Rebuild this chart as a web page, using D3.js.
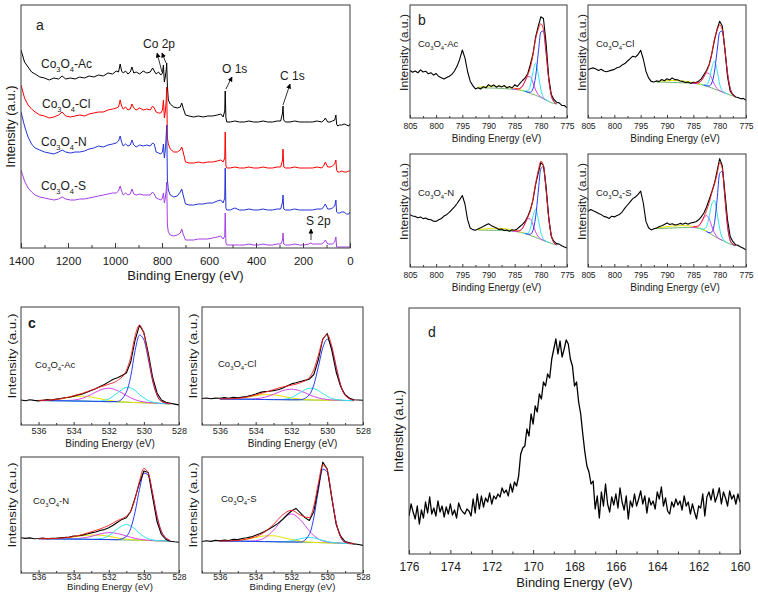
<!DOCTYPE html>
<html><head><meta charset="utf-8">
<script src="https://cdn.jsdelivr.net/npm/d3@7/dist/d3.min.js"></script>
<style>body{margin:0;background:#fff}</style>
</head><body>
<script>
// ================= DATA =================
const sampleNames = ["Ac","Cl","N","S"];

// ---- (a) survey spectra ----
const surveyE = [1400,1385,1370,1355,1340,1320,1300,1280,1260,1240,1225,1210,1190,1170,1150,1130,1110,1090,1070,1050,1030,1010,995,985,978,972,965,955,945,935,928,920,910,895,880,865,850,840,833,825,815,805,798,794,790,786,782,780,777,773,765,750,735,722,716,710,700,685,665,645,625,605,585,565,550,540,533,531,528,524,510,490,470,450,430,410,390,370,350,330,310,295,287,285,282,275,255,235,215,195,175,168,160,140,120,110,105,95,85,75,65,60,57,52,45,35,25,15,5,0];
const surveyAc = [198,186,181,176,174,171,170,168,170,169,172,169,170,169,171,170,172,171,173,172,175,174,177,176,184,177,175,177,174,176,181,175,176,174,177,175,176,180,177,174,176,173,175,183,166,171,178,185,162,148,144,141,140,141,145,140,133,132,131,132,131,132,132,133,134,131,137,157,130,126,126,127,126,126,127,126,126,127,126,126,127,127,135,142,128,126,126,127,126,126,126,126,126,127,126,128,130,126,126,127,128,133,124,122,123,123,124,123,122,124];
const surveyCl = [163,150,143,139,136,133,132,130,131,133,136,132,131,132,133,132,134,135,136,136,138,139,140,141,148,142,139,141,138,139,144,140,138,140,138,139,138,142,140,136,135,135,138,148,130,136,148,161,110,104,99,96,96,98,101,96,86,85,85,86,85,86,86,87,88,86,90,116,82,80,80,81,80,80,81,80,80,81,80,80,81,81,88,99,81,80,80,81,80,80,80,80,80,81,80,83,86,81,81,82,84,88,78,76,76,77,76,76,77,77];
const surveyN = [136,122,111,104,100,98,96,95,94,96,98,96,95,96,96,97,99,100,102,101,103,104,105,107,112,106,102,104,102,103,108,103,101,103,102,103,102,105,104,96,95,94,96,104,90,98,113,123,68,58,53,51,52,56,59,53,44,43,43,44,44,45,45,47,48,45,50,80,40,38,38,40,38,38,39,38,38,39,38,38,39,39,46,53,39,38,38,39,38,38,38,38,38,39,39,42,44,39,39,40,42,48,36,35,35,36,36,34,34,36];
const surveyS = [78,67,60,56,53,51,50,49,48,49,51,49,48,48,49,49,50,51,52,53,54,55,55,57,62,57,53,55,53,54,59,54,53,54,53,53,53,56,54,50,49,48,50,55,45,50,58,66,23,16,13,12,13,15,19,14,8,8,8,9,9,9,10,11,12,9,12,35,5,3,3,3,3,3,4,3,3,4,3,3,4,4,8,15,4,3,3,4,3,3,4,5,4,4,4,6,8,4,4,4,6,11,1,1,1,1,1,1,1,1];
const surveyTicks = [1400,1200,1000,800,600,400,200,0];
const surveyMinor = [1300,1100,900,700,500,300,100];
const peakLabels = ["Co 2p","O 1s","C 1s","S 2p"];

// ---- (b) Co 2p spectra: 805 -> 775 eV, 0.5 eV steps ----
const co2pAc = [47.5,45.8,47.0,45.2,48.1,46.0,46.8,44.2,45.3,42.9,44.4,41.5,40.2,39.1,40.5,41.8,43.6,47.0,51.9,58.8,68.0,60.2,46.5,36.8,32.4,29.1,30.2,29.0,31.3,30.2,33.4,31.6,33.0,30.8,32.3,31.0,32.5,30.1,31.4,30.0,33.2,31.5,34.6,37.5,40.2,44.3,53.5,64.0,80.8,91.6,101.2,99.5,75.3,41.0,23.4,18.6,15.8,15.1,12.6,12.5,10.1];
const co2pCl = [48.2,49.5,50.1,48.9,47.6,48.8,47.0,46.2,47.1,47.9,48.6,50.2,51.0,53.1,54.4,57.0,59.3,61.8,60.9,63.5,67.6,59.0,46.8,40.1,36.6,36.0,37.1,36.4,38.5,37.3,39.2,38.1,40.0,38.4,38.2,37.0,36.6,35.5,35.9,34.8,35.6,35.4,36.8,39.2,43.3,47.5,53.4,64.2,77.6,88.5,96.8,92.0,68.4,41.0,26.8,23.4,21.0,20.5,19.2,19.6,17.8];
const co2pN = [52.3,51.0,50.6,49.2,50.1,48.4,49.0,47.6,47.3,45.8,45.6,47.2,48.5,50.9,52.3,54.6,57.4,60.2,63.5,67.4,71.5,63.0,47.3,39.0,37.4,36.8,38.0,39.2,40.6,42.1,43.3,41.6,40.2,39.0,37.5,37.9,36.6,36.9,35.8,37.2,36.8,38.1,40.5,42.6,45.6,50.4,57.2,66.8,82.3,93.9,104.5,101.5,80.6,50.0,30.6,25.6,23.4,22.9,21.2,20.0,18.9];
const co2pS = [55.8,57.5,56.2,55.0,53.5,52.4,50.6,49.9,48.4,50.8,50.1,51.5,52.6,55.2,58.9,62.0,65.1,68.4,70.0,72.6,75.8,64.0,45.6,39.2,37.1,38.2,38.9,40.3,41.2,42.6,44.1,42.5,43.3,42.0,42.4,43.6,42.8,43.9,42.7,44.0,44.6,45.3,47.2,50.1,54.0,59.8,67.3,75.0,83.5,95.6,108.4,101.2,73.9,46.8,30.5,25.6,22.3,21.6,20.1,18.8,17.2];
const co2pTicks = [805,800,795,790,785,780,775];
const co2pMinor = [802.5,797.5,792.5,787.5,782.5,777.5];
// fitted components (peak heights above background) on this grid
const co2pFitE = [792,791,790,789,788,787,786,785.5,785,784.5,784,783.5,783,782.5,782,781.5,781,780.5,780,779.5,779,778.5,778,777.5,777];
const co2pBgAc = [30.3,30.2,30.0,29.9,29.7,29.4,29.0,28.8,28.7,28.3,28.0,27.3,26.7,25.7,24.7,23.7,22.7,21.7,20.7,19.3,18.0,16.7,15.3,14.7,14.0];
const co2pSatAc = [0.5,1.0,1.5,2.0,2.0,2.0,1.5,1.2,1.0,0.6,0.3,0.1,0,0,0,0,0,0,0,0,0,0,0,0,0];
const co2pP3Ac = [0,0,0,0,0,0,0,0,0.1,0.3,1.4,4.5,10.3,15.8,16.5,11.6,5.5,1.8,0.4,0.1,0,0,0,0,0];
const co2pP2Ac = [0,0,0,0,0,0,0,0,0,0,0,0,0.1,1.4,8.0,22.6,32.0,22.6,8.0,1.4,0.1,0,0,0,0];
const co2pP1Ac = [0,0,0,0,0,0,0,0,0,0,0,0,0,0.1,1.1,5.6,18.7,42.5,65.2,67.8,47.7,22.8,7.4,1.6,0.2];
const co2pBgCl = [36.0,35.9,35.8,35.6,35.4,35.2,35.0,34.8,34.6,34.3,34.0,33.4,32.8,32.0,31.0,30.0,29.0,28.0,27.0,26.0,25.0,24.0,23.0,22.2,21.5];
const co2pSatCl = [0.5,1.0,1.5,2.0,2.0,1.8,1.4,1.1,0.9,0.6,0.3,0.1,0,0,0,0,0,0,0,0,0,0,0,0,0];
const co2pP3Cl = [0,0,0,0,0,0,0,0,0.1,0.2,1.1,3.7,8.4,13.0,13.5,9.5,4.5,1.5,0.3,0.1,0,0,0,0,0];
const co2pP2Cl = [0,0,0,0,0,0,0,0,0,0,0,0,0.1,1.2,7.0,19.8,28.0,19.8,7.0,1.2,0.1,0,0,0,0];
const co2pP1Cl = [0,0,0,0,0,0,0,0,0,0,0,0,0,0.1,1.0,5.0,16.8,38.3,58.7,61.0,42.9,20.5,6.7,1.4,0.2];
const co2pBgN = [37.0,36.9,36.8,36.7,36.6,36.4,36.0,35.8,35.5,35.2,34.8,34.2,33.5,32.6,31.6,30.6,29.6,28.6,27.6,26.6,25.6,24.6,23.6,22.8,22.0];
const co2pSatN = [0.5,1.0,1.5,2.0,2.0,2.0,1.5,1.2,1.0,0.6,0.3,0.1,0,0,0,0,0,0,0,0,0,0,0,0,0];
const co2pP3N = [0,0,0,0,0,0,0,0,0.1,0.3,1.4,4.5,10.3,15.8,16.5,11.6,5.5,1.8,0.4,0.1,0,0,0,0,0];
const co2pP2N = [0,0,0,0,0,0,0,0,0,0,0,0,0.1,1.2,7.0,19.8,28.0,19.8,7.0,1.2,0.1,0,0,0,0];
const co2pP1N = [0,0,0,0,0,0,0,0,0,0,0,0,0,0.2,1.2,6.1,20.3,46.1,70.8,73.6,51.8,24.7,8.0,1.7,0.3];
const co2pBgS = [38.5,38.6,38.8,39.0,39.2,39.4,39.6,39.6,39.5,39.2,38.8,38.0,37.0,35.6,34.0,32.4,30.8,29.3,27.9,26.6,25.3,24.1,23.0,22.2,21.5];
const co2pSatS = [0.5,1.0,1.5,2.0,2.0,2.0,1.6,1.3,1.1,0.8,0.5,0.2,0.1,0,0,0,0,0,0,0,0,0,0,0,0];
const co2pP3S = [0,0,0,0,0,0,0,0,0.1,0.5,2.1,6.3,12.1,15.9,14.1,8.5,3.5,0.9,0.1,0,0,0,0,0,0];
const co2pP2S = [0,0,0,0,0,0,0,0,0,0,0,0.1,0.9,4.9,15.7,30.6,35.6,24.9,10.5,2.6,0.4,0,0,0,0];
const co2pP1S = [0,0,0,0,0,0,0,0,0,0,0,0,0,0,0.3,2.7,12.8,37.4,65.7,69.1,43.7,16.6,3.7,0.5,0];

// ---- (c) O 1s spectra: 537 -> 528 eV, 0.25 eV steps ----
const o1sAc = [25.0,24.2,25.3,24.6,24.1,24.8,25.5,25.0,25.9,26.4,27.2,27.8,28.9,30.1,31.0,32.8,34.5,36.2,38.6,40.5,43.1,45.8,47.2,49.5,52.0,63.0,85.0,99.8,92.5,72.0,47.5,32.0,25.0,22.8,21.8,20.9,20.1];
const o1sCl = [26.5,27.0,26.2,26.9,26.7,27.4,26.8,27.6,27.3,27.9,28.4,29.6,31.0,32.6,33.4,33.8,34.4,35.2,36.8,38.9,41.1,42.2,43.5,44.6,45.8,50.5,65.0,86.0,91.5,75.0,53.0,38.5,30.2,26.8,25.2,25.0,24.8];
const o1sN = [35.2,34.6,35.1,34.2,34.5,35.0,34.3,34.8,34.6,35.3,35.6,36.0,36.9,37.3,37.9,39.0,40.1,41.0,42.5,43.4,45.2,47.8,50.8,53.6,55.2,61.5,75.2,90.1,102.0,100.5,75.5,51.2,38.5,33.5,31.8,31.2,30.8];
const o1sS = [31.5,32.2,31.6,32.6,32.1,32.9,32.5,33.6,33.4,34.5,35.2,36.1,37.8,39.4,41.5,44.0,46.8,49.6,53.5,58.0,62.0,64.6,60.2,55.4,52.5,61.5,85.3,111.0,104.0,75.5,48.5,36.8,31.5,30.2,29.1,28.5,27.6];
const o1sTicks = [536,534,532,530,528];
const o1sMinor = [537,535,533,531,529];
const o1sFitE = [536,535.5,535,534.5,534,533.5,533,532.5,532,531.5,531,530.75,530.5,530.25,530,529.75,529.5,529.25,529,528.5];
const o1sBgAc = [24.5,24.4,24.3,24.2,24.0,23.9,23.7,23.5,23.3,23.0,22.8,22.6,22.5,22.3,22.2,22.0,21.9,21.7,21.5,21.2];
const o1sP4Ac = [0.1,0.4,1.2,2.7,4.3,5.0,4.3,2.7,1.2,0.4,0.1,0,0,0,0,0,0,0,0,0];
const o1sP3Ac = [0,0,0,0.2,0.9,2.8,6.8,11.4,13.5,11.4,6.8,4.6,2.8,1.6,0.9,0.4,0.2,0.1,0,0];
const o1sP2Ac = [0,0,0,0,0,0,0,0.4,2.8,9.1,14.8,14.5,12.0,8.3,4.9,2.4,1.0,0.3,0.1,0];
const o1sP1Ac = [0,0,0,0,0,0,0,0,0,0.6,10.0,26.0,52.0,67.6,63.0,44.0,22.0,8.0,2.0,0.1];
const o1sBgCl = [26.0,25.9,25.8,25.7,25.6,25.5,25.4,25.3,25.2,25.1,25.0,24.9,24.9,24.8,24.8,24.7,24.7,24.6,24.5,24.4];
const o1sP4Cl = [0.1,0.3,0.8,2.1,3.7,4.9,4.7,3.4,1.8,0.7,0.2,0.1,0,0,0,0,0,0,0,0];
const o1sP3Cl = [0,0,0,0.2,0.7,2.2,5.3,9.0,10.6,9.0,5.3,3.6,2.2,1.3,0.7,0.3,0.2,0.1,0,0];
const o1sP2Cl = [0,0,0,0,0,0,0,0.3,2.2,7.3,11.8,11.6,9.6,6.7,3.9,1.9,0.8,0.3,0.1,0];
const o1sP1Cl = [0,0,0,0,0,0,0,0,0,0.2,5.2,15.2,32.9,52.3,61.0,52.3,32.9,15.2,5.2,0.2];
const o1sBgN = [34.3,34.2,34.1,34.0,33.9,33.8,33.6,33.5,33.4,33.2,33.0,32.9,32.8,32.7,32.6,32.5,32.4,32.2,32.1,31.8];
const o1sP4N = [0,0.1,0.4,1.1,2.2,3.5,4.4,4.3,3.3,1.9,0.9,0.5,0.3,0.2,0.1,0,0,0,0,0];
const o1sP3N = [0,0,0,0.1,0.3,1.2,3.0,5.5,7.0,6.3,4.0,2.8,1.8,1.1,0.6,0.3,0.1,0,0,0];
const o1sP2N = [0,0,0,0,0,0,0.1,0.7,3.9,11.0,15.5,14.2,11.0,7.1,3.9,1.8,0.7,0.2,0.1,0];
const o1sP1N = [0,0,0,0,0,0,0,0,0,0.1,3.5,11.6,28.4,51.0,67.3,65.3,46.5,24.3,9.3,0.5];
const o1sBgS = [32.0,31.9,31.8,31.7,31.5,31.4,31.3,31.1,31.0,30.8,30.6,30.5,30.4,30.3,30.2,30.1,30.0,29.8,29.6,29.2];
const o1sP4S = [0,0.2,0.8,2.1,4.0,5.7,5.9,4.4,2.5,1.0,0.3,0.1,0,0,0,0,0,0,0,0];
const o1sP3S = [0,0,0,0.1,0.8,3.8,11.5,22.4,28.0,22.4,11.5,7.0,3.8,1.8,0.8,0.3,0.1,0,0,0];
const o1sP2S = [0,0,0,0,0,0,0,0.1,1.2,3.5,5.0,4.6,3.5,2.3,1.2,0.6,0.2,0.1,0,0];
const o1sP1S = [0,0,0,0,0,0,0,0,0,0.2,8.0,24.7,51.8,73.6,70.8,46.1,20.3,6.1,1.2,0];

// ---- (d) S 2p spectrum: 176 -> 160 eV, 0.1 eV steps ----
const s2p = [38,50,42,35,48,30,44,36,52,41, 57,40,46,38,53,42,48,37,47,40, 50,39,44,36,51,45,42,40,45,43,
  38,55,41,60,45,58,47,56,52,61, 50,58,55,60,57,66,61,64,58,70, 62,72,68,78,100,106,108,125,118,140,
  130,148,142,160,155,172,168,180,176,195, 205,215,200,213,197,205,214,210,195,188, 168,172,152,140,120,102,88,82,70,73,
  45,58,36,62,48,70,50,42,57,49, 60,46,66,52,44,58,35,53,47,60, 48,55,63,50,58,41,56,49,53,45,
  62,55,67,48,56,43,40,52,47,55, 49,53,44,58,48,52,40,50,42,35, 48,46,60,38,57,62,54,65,52,58,
  66,50,62,56,48,63,55,59,50,60, 52];
const s2pTicks = [176,174,172,170,168,166,164,162,160];
const s2pMinor = [175,173,171,169,167,165,163,161];

// ================= DRAWING =================
const FONT = "'Liberation Sans', Arial, Helvetica, sans-serif";
const TXT = "#1a1a1a", FR = "#3a3a3a";
const COL = {bg:"#6fb36f", sat:"#e4e400", p3:"#d546e8", p2:"#2fe3ef", p1:"#2a3cf0", env:"#ff1a1a", dat:"#000"};
const surveyCols = ["#000000","#ff0000","#2433d6","#a43fe6"];

const svg = d3.select("body").append("svg").attr("width",758).attr("height",592)
  .style("font-family",FONT);
svg.append("rect").attr("width",758).attr("height",592).attr("fill","#fff");
const defs = svg.append("defs");
defs.append("marker").attr("id","ah").attr("viewBox","0 0 10 10").attr("refX",9).attr("refY",5)
  .attr("markerWidth",5).attr("markerHeight",5).attr("markerUnits","userSpaceOnUse").attr("orient","auto")
  .append("path").attr("d","M0,0 L10,5 L0,10 z").attr("fill","#000");

let clipN = 0;
function panel(o){
  const x = d3.scaleLinear().domain(o.xd).range([o.x0,o.x1]);
  const y = d3.scaleLinear().domain(o.yd).range([o.y1,o.y0]);
  const id = "clip"+(clipN++);
  defs.append("clipPath").attr("id",id).append("rect")
    .attr("x",o.x0).attr("y",o.y0).attr("width",o.x1-o.x0).attr("height",o.y1-o.y0);
  const g = svg.append("g");
  const plot = g.append("g").attr("clip-path",`url(#${id})`);
  const ax = g.append("g").attr("transform",`translate(0,${o.y1})`)
    .call(d3.axisBottom(x).tickValues(o.major).tickSizeInner(-o.majLen).tickSizeOuter(0)
      .tickPadding(o.pad).tickFormat(d3.format("d")));
  ax.select(".domain").remove();
  ax.selectAll("line").attr("stroke",FR);
  ax.selectAll("text").attr("font-size",o.tf).attr("font-family",FONT).attr("fill",TXT);
  const mx = g.append("g").attr("transform",`translate(0,${o.y1})`)
    .call(d3.axisBottom(x).tickValues(o.minor).tickSizeInner(-o.minLen).tickSizeOuter(0).tickFormat(""));
  mx.select(".domain").remove();
  mx.selectAll("line").attr("stroke",FR);
  g.append("rect").attr("x",o.x0).attr("y",o.y0).attr("width",o.x1-o.x0).attr("height",o.y1-o.y0)
    .attr("fill","none").attr("stroke",FR).attr("stroke-width",1);
  return {x,y,g,plot};
}
function xTitle(cx, by, size){
  svg.append("text").attr("x",cx).attr("y",by).attr("text-anchor","middle")
    .attr("font-size",size).attr("fill",TXT).text("Binding Energy (eV)");
}
function yTitle(cx, cy, size, len){
  const t = svg.append("text").attr("transform",`translate(${cx},${cy}) rotate(-90)`)
    .attr("text-anchor","middle").attr("dy","0.35em").attr("font-size",size).attr("fill",TXT)
    .text("Intensity (a.u.)");
  if(len) t.attr("textLength",len).attr("lengthAdjust","spacingAndGlyphs");
}
function coLabel(x, y, suffix, size){
  const t = svg.append("text").attr("x",x).attr("y",y).attr("font-size",size).attr("fill",TXT);
  const s = size*0.62, d = size*0.3;
  t.append("tspan").text("Co");
  t.append("tspan").attr("font-size",s).attr("dy",d).text("3");
  t.append("tspan").attr("dy",-d).text("O");
  t.append("tspan").attr("font-size",s).attr("dy",d).text("4");
  t.append("tspan").attr("dy",-d).text("-"+suffix);
}
function letter(x, y, ch, bold){
  svg.append("text").attr("x",x).attr("y",y).attr("font-size",14).attr("fill",TXT)
    .attr("font-weight",bold?"bold":"normal").text(ch);
}
function drawFit(p, fitE, bg, comps, dE, dv, opt){
  const sm = d3.line().x(d=>p.x(d[0])).y(d=>p.y(d[1])).curve(d3.curveMonotoneX);
  const ln = d3.line().x(d=>p.x(d[0])).y(d=>p.y(d[1]));
  const n = fitE.length;
  p.plot.append("path").attr("d",sm(fitE.map((e,i)=>[e,bg[i]]))).attr("fill","none")
    .attr("stroke",COL.bg).attr("stroke-width",1);
  comps.forEach(c=>{
    let a = 0, b = n-1;
    if(!opt.full){
      a = c.v.findIndex(v=>v>0); b = n-1-[...c.v].reverse().findIndex(v=>v>0);
      a = Math.max(0,a-1); b = Math.min(n-1,b+1);
    }
    const pts = [];
    for(let i=a;i<=b;i++) pts.push([fitE[i], bg[i]+c.v[i]]);
    p.plot.append("path").attr("d",sm(pts)).attr("fill","none").attr("stroke",c.col).attr("stroke-width",1);
  });
  p.plot.append("path").attr("d",ln(dE.map((e,i)=>[e,dv[i]]))).attr("fill","none")
    .attr("stroke",COL.dat).attr("stroke-width",1.1).attr("stroke-linejoin","round");
  const env = [];
  for(let i=opt.envFrom;i<n;i++){
    env.push([fitE[i], bg[i]+comps.reduce((s,c)=>s+c.v[i],0)]);
  }
  p.plot.append("path").attr("d",sm(env)).attr("fill","none").attr("stroke",COL.env)
    .attr("stroke-width",1).attr("opacity",0.9);
}

// ---------- Panel (a) ----------
{
  const p = panel({x0:21,x1:350,y0:5,y1:248,xd:[1400,0],yd:[0,243],major:surveyTicks,minor:surveyMinor,
    majLen:5,minLen:3,pad:8.5,tf:11.5});
  const ln = d3.line().x(d=>p.x(d[0])).y(d=>p.y(d[1]));
  const series = [surveyAc,surveyCl,surveyN,surveyS];
  series.forEach((s,k)=>{
    p.plot.append("path").attr("d",ln(surveyE.map((e,i)=>[e,s[i]]))).attr("fill","none")
      .attr("stroke",surveyCols[k]).attr("stroke-width",1).attr("stroke-linejoin","round");
  });
  xTitle(185.5,279.5,13);
  yTitle(10,126.5,13);
  letter(36,30,"a");
  const labPos = [[41,68],[42,108],[41,146],[41,190]];
  sampleNames.forEach((n,k)=>coLabel(labPos[k][0],labPos[k][1],n,12));
  const arrows = [[[800,176],[821,195]],[[783,185],[800,195]],[[528,159],[502,171]],[[285,143],[255,164]],[[166,8],[166,19]]];
  arrows.forEach(a=>{
    p.g.append("line").attr("x1",p.x(a[0][0])).attr("y1",p.y(a[0][1])).attr("x2",p.x(a[1][0])).attr("y2",p.y(a[1][1]))
      .attr("stroke","#000").attr("stroke-width",0.8).attr("marker-end","url(#ah)");
  });
  const txtPos = [[143,48],[222,73],[280,80],[306,225]];
  peakLabels.forEach((t,k)=>{
    svg.append("text").attr("x",txtPos[k][0]).attr("y",txtPos[k][1]).attr("font-size",12).attr("fill",TXT).text(t);
  });
}

// ---------- Panel (b) ----------
{
  const bE = co2pAc.map((v,i)=>805 - i*0.5);
  const cfg = [
    {x0:410,x1:567,y0:5,y1:118,data:co2pAc,bg:co2pBgAc,c:[co2pSatAc,co2pP3Ac,co2pP2Ac,co2pP1Ac]},
    {x0:588,x1:746,y0:5,y1:118,data:co2pCl,bg:co2pBgCl,c:[co2pSatCl,co2pP3Cl,co2pP2Cl,co2pP1Cl]},
    {x0:410,x1:567,y0:154,y1:267,data:co2pN,bg:co2pBgN,c:[co2pSatN,co2pP3N,co2pP2N,co2pP1N]},
    {x0:588,x1:746,y0:154,y1:267,data:co2pS,bg:co2pBgS,c:[co2pSatS,co2pP3S,co2pP2S,co2pP1S]}
  ];
  const cols = [COL.sat,COL.p3,COL.p2,COL.p1];
  cfg.forEach((c,k)=>{
    const p = panel({x0:c.x0,x1:c.x1,y0:c.y0,y1:c.y1,xd:[805,775],yd:[0,c.y1-c.y0],major:co2pTicks,minor:co2pMinor,
      majLen:3,minLen:2,pad:5,tf:8.5});
    drawFit(p, co2pFitE, c.bg, c.c.map((v,j)=>({v, col:cols[j]})), bE, c.data, {full:false, envFrom:8});
    xTitle((c.x0+c.x1)/2+8, c.y1+23.5, 10);
    yTitle(c.x0-6, (c.y0+c.y1)/2-9, 10, 77);
    coLabel(c.x0+8, c.y0+42, sampleNames[k], 9.5);
  });
  letter(418,25,"b");
}

// ---------- Panel (c) ----------
{
  const oE = o1sAc.map((v,i)=>537 - i*0.25);
  const cfg = [
    {x0:21,x1:179,y0:307,y1:425,data:o1sAc,bg:o1sBgAc,c:[o1sP4Ac,o1sP3Ac,o1sP2Ac,o1sP1Ac],lab:[35,368]},
    {x0:202,x1:363,y0:307,y1:425,data:o1sCl,bg:o1sBgCl,c:[o1sP4Cl,o1sP3Cl,o1sP2Cl,o1sP1Cl],lab:[218,367]},
    {x0:21,x1:179,y0:457,y1:573,data:o1sN,bg:o1sBgN,c:[o1sP4N,o1sP3N,o1sP2N,o1sP1N],lab:[33,504]},
    {x0:202,x1:363,y0:457,y1:573,data:o1sS,bg:o1sBgS,c:[o1sP4S,o1sP3S,o1sP2S,o1sP1S],lab:[221,502]}
  ];
  const cols = [COL.sat,COL.p3,COL.p2,COL.p1];
  cfg.forEach((c,k)=>{
    const bottom = c.y0 > 440;
    const p = panel({x0:c.x0,x1:c.x1,y0:c.y0,y1:c.y1,xd:[537,528],yd:[0,c.y1-c.y0],major:o1sTicks,minor:o1sMinor,
      majLen:3,minLen:2,pad:bottom?0.5:3,tf:bottom?8.5:9});
    drawFit(p, o1sFitE, c.bg, c.c.map((v,j)=>({v, col:cols[j]})), oE, c.data, {full:true, envFrom:0});
    xTitle((c.x0+c.x1)/2+10, bottom ? 589.8 : c.y1+21.5, bottom ? 9.6 : 10);
    yTitle(c.x0-9, (c.y0+c.y1)/2-10, 10.5, 85);
    coLabel(c.lab[0], c.lab[1], sampleNames[k], 9.5);
  });
  letter(28,328,"c",true);
}

// ---------- Panel (d) ----------
{
  const dE = s2p.map((v,i)=>+(176 - i*0.1).toFixed(1));
  const p = panel({x0:409,x1:740,y0:308,y1:554,xd:[176,160],yd:[0,246],major:s2pTicks,minor:s2pMinor,
    majLen:4,minLen:2.5,pad:8.5,tf:12});
  const ln = d3.line().x(d=>p.x(d[0])).y(d=>p.y(d[1]));
  p.plot.append("path").attr("d",ln(dE.map((e,i)=>[e,s2p[i]]))).attr("fill","none")
    .attr("stroke","#000").attr("stroke-width",1.3).attr("stroke-linejoin","round");
  xTitle(574.5,586.5,13);
  yTitle(398,431,13);
  letter(428,337,"d");
}
</script>
</body></html>
